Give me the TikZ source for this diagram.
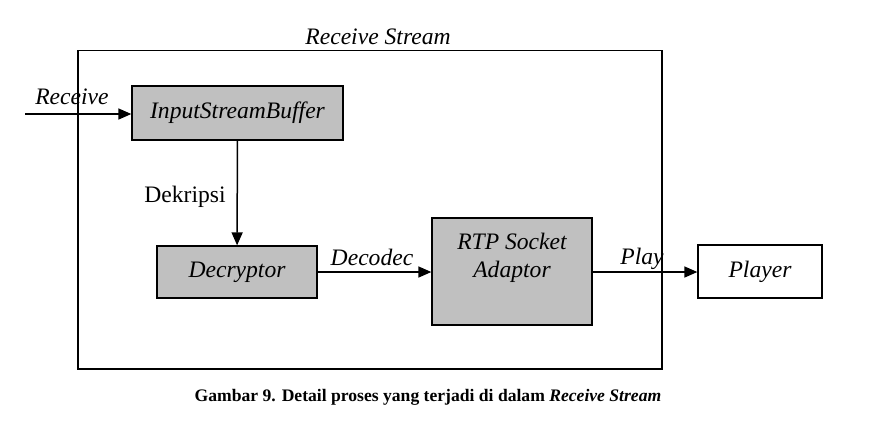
\documentclass[tikz,border=0pt]{standalone}
\usepackage{fontspec}
\setmainfont{Liberation Serif}
\usetikzlibrary{arrows.meta,calc,positioning}
\definecolor{boxgray}{HTML}{C0C0C0}

\begin{document}
\begin{tikzpicture}[x=0.5pt,y=-0.5pt,font=\fontsize{11.8}{14}\selectfont\itshape,
  block/.style={draw,line width=0.65pt,fill=boxgray,inner sep=0pt},
  flow/.style={-{Triangle[length=6.5pt,width=5.5pt]},line width=0.75pt}]
\useasboundingbox (0,0) rectangle (873,447);
% frame of the receive stream
\node[draw,line width=0.6pt,minimum width=292pt,minimum height=159.25pt,inner sep=0pt] (stream) at (370,209.75) {};
\node (title) at (378,37) {Receive Stream};
% blocks
\node[block,minimum width=105.5pt,minimum height=27pt] (isb) at (237.5,113) {InputStreamBuffer};
\node[block,minimum width=80pt,minimum height=26pt] (dec) at (237,272) {Decryptor};
\node[block,minimum width=80pt,minimum height=53.5pt] (rtp) at (512,271.5) {};
\node[align=center,anchor=north,inner sep=0pt] (rtptext) at ([yshift=-7.5pt]rtp.north) {RTP Socket\\Adaptor};
\node[draw,line width=0.65pt,fill=white,minimum width=62pt,minimum height=26.5pt,inner sep=0pt] (player) at (760,271.5) {Player};
% connectors
\coordinate (in) at (25,114);
\draw[flow] (in) -- (in -| isb.west);
\node (recv) at (72,97) {Receive};
\draw[flow] (isb) -- (dec);
\node[font=\fontsize{11.8}{14}\selectfont\upshape] (dekripsi) at (185,197) {Dekripsi};
\draw[flow] (dec.east) -- (rtp.west |- dec.east);
\node (decodec) at (372,257) {Decodec};
\draw[flow] (rtp.east |- dec.east) -- (player.west |- dec.east);
\node (play) at (642,259) {Play};
% caption
\node[font=\fontsize{8.8}{10}\selectfont\bfseries] (caption) at (428,397) {Gambar 9. Detail proses yang terjadi di dalam \textit{Receive Stream}};
\end{tikzpicture}
\end{document}
